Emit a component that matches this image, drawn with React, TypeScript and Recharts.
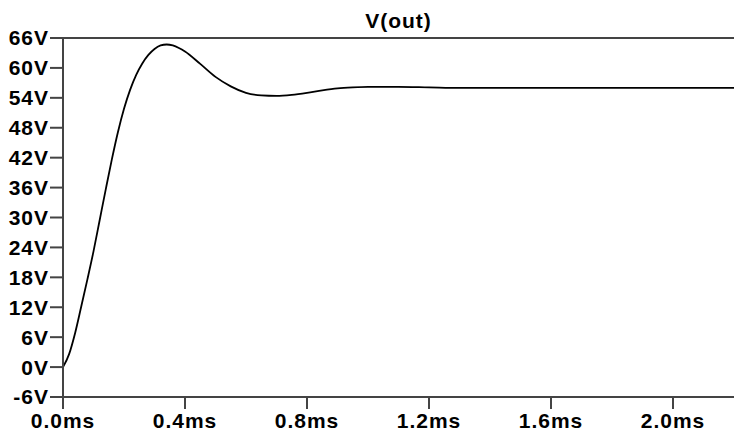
import { LineChart, Line, XAxis, YAxis, ReferenceLine } from "recharts";

// transient response (ms, V)
const timeMs = [
  0, 0.02, 0.04, 0.06, 0.08, 0.1, 0.12, 0.14, 0.16, 0.18, 0.2, 0.22, 0.24,
  0.26, 0.28, 0.3, 0.32, 0.34, 0.36, 0.38, 0.4, 0.45, 0.5, 0.55, 0.6, 0.65,
  0.7, 0.75, 0.8, 0.85, 0.9, 0.95, 1.0, 1.1, 1.2, 1.3, 1.5, 1.8, 2.2,
];
const vOut = [
  0, 2.6, 6.9, 12.2, 17.6, 23.2, 29.4, 35.6, 41.6, 47.1, 51.8, 55.6, 58.6,
  60.9, 62.6, 63.8, 64.5, 64.7, 64.5, 64.0, 63.3, 60.8, 58.2, 56.3, 55.0,
  54.5, 54.4, 54.6, 55.0, 55.5, 55.9, 56.1, 56.2, 56.2, 56.1, 56.0, 56.0,
  56.0, 56.0,
];
const xTicks = [0, 0.4, 0.8, 1.2, 1.6, 2.0];
const yTicks = [-6, 0, 6, 12, 18, 24, 30, 36, 42, 48, 54, 60, 66];

const data = timeMs.map((t, i) => ({ t, v: vOut[i] }));

const axisColor = "#444";
const font = {
  fontFamily: "'Liberation Sans', Arial, sans-serif",
  fontWeight: 700,
  fontSize: 21,
  fill: "#000",
  letterSpacing: 1,
};

export default function App() {
  return (
    <div style={{ position: "absolute", left: 0, top: 0, width: 734, height: 437, background: "#fff" }}>
      <div
        style={{
          position: "absolute",
          left: 63,
          width: 671,
          top: 9,
          textAlign: "center",
          ...font,
          color: "#000",
          lineHeight: "24px",
        }}
      >
        V(out)
      </div>
      <LineChart
        width={734}
        height={437}
        data={data}
        margin={{ top: 38, right: 0, left: 0, bottom: 0 }}
      >
        <XAxis
          dataKey="t"
          type="number"
          domain={[0, 2.2]}
          ticks={xTicks}
          tickFormatter={(v: number) => v.toFixed(1) + "ms"}
          height={40}
          tickSize={12}
          tickMargin={4}
          stroke={axisColor}
          strokeWidth={2}
          tick={font}
          interval={0}
          allowDataOverflow
        />
        <YAxis
          type="number"
          domain={[-6, 66]}
          ticks={yTicks}
          tickFormatter={(v: number) => `${v}V`}
          width={63}
          tickSize={13}
          tickMargin={1}
          stroke={axisColor}
          strokeWidth={2}
          tick={font}
          interval={0}
        />
        <ReferenceLine y={66} stroke={axisColor} strokeWidth={2} />
        <Line
          dataKey="v"
          type="monotone"
          stroke="#000"
          strokeWidth={1.8}
          dot={false}
          isAnimationActive={false}
        />
      </LineChart>
    </div>
  );
}
